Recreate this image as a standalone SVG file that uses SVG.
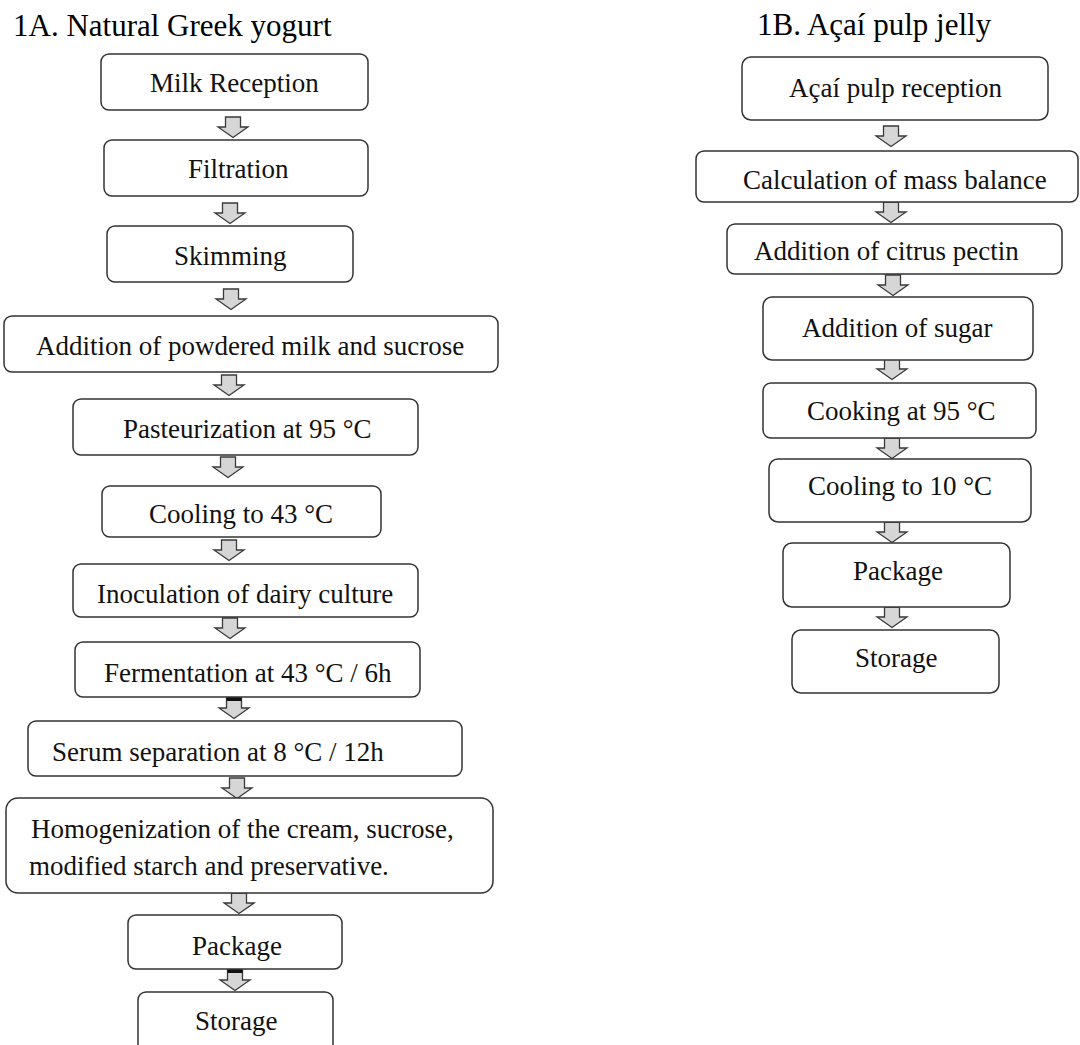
<svg xmlns="http://www.w3.org/2000/svg" width="1080" height="1045" viewBox="0 0 1080 1045">
<style>
  .bg{fill:#ffffff}
  .box{fill:#ffffff;stroke:#333333;stroke-width:1.5}
  .lbl{font-family:"Liberation Serif","Times New Roman",serif;font-size:27px;fill:#111111}
  .title{font-family:"Liberation Serif","Times New Roman",serif;font-size:31px;fill:#000000}
  .arr{fill:#d6d6d6;stroke:#3a3a3a;stroke-width:1.3;stroke-linejoin:miter}
  .cap{fill:#111111}
</style>
<defs>
  <path id="ar" d="M-7.5,0 H7.5 V10 H15 L0,20.5 L-15,10 H-7.5 Z"/>
</defs>
<rect class="bg" x="0" y="0" width="1080" height="1045"/>

<text class="title" x="13" y="36" font-family="Liberation Serif, Times New Roman, serif">1A. Natural Greek yogurt</text>
<text class="title" x="757" y="35" font-family="Liberation Serif, Times New Roman, serif">1B. Açaí pulp jelly</text>

<g id="connectors">
  <use href="#ar" class="arr" x="233" y="117"/>
  <use href="#ar" class="arr" x="230" y="203"/>
  <use href="#ar" class="arr" x="231" y="289"/>
  <use href="#ar" class="arr" x="229" y="375"/>
  <use href="#ar" class="arr" x="228" y="457"/>
  <use href="#ar" class="arr" x="229" y="540"/>
  <use href="#ar" class="arr" x="230" y="618"/>
  <use href="#ar" class="arr" x="234" y="698"/>
  <rect class="cap" x="226.5" y="697" width="15" height="4"/>
  <use href="#ar" class="arr" x="237" y="778"/>
  <use href="#ar" class="arr" x="239" y="893"/>
  <use href="#ar" class="arr" x="235" y="970"/>
  <rect class="cap" x="227.5" y="969" width="15" height="4"/>

  <use href="#ar" class="arr" x="891" y="126"/>
  <use href="#ar" class="arr" x="891" y="202"/>
  <use href="#ar" class="arr" x="893" y="275"/>
  <use href="#ar" class="arr" x="892" y="359"/>
  <use href="#ar" class="arr" x="892" y="438"/>
  <use href="#ar" class="arr" x="892" y="522"/>
  <use href="#ar" class="arr" x="892" y="607"/>
</g>

<g font-family="Liberation Serif, Times New Roman, serif" font-size="27">
<g id="a1"><rect class="box" x="101" y="54" width="267" height="56" rx="8"/><text class="lbl" x="150" y="92">Milk Reception</text></g>
<g id="a2"><rect class="box" x="104" y="140" width="264" height="56" rx="8"/><text class="lbl" x="188" y="178">Filtration</text></g>
<g id="a3"><rect class="box" x="107" y="226" width="246" height="56" rx="8"/><text class="lbl" x="174" y="265">Skimming</text></g>
<g id="a4"><rect class="box" x="4" y="316" width="494" height="56" rx="8"/><text class="lbl" x="36" y="355">Addition of powdered milk and sucrose</text></g>
<g id="a5"><rect class="box" x="73" y="399" width="345" height="56" rx="8"/><text class="lbl" x="123" y="438">Pasteurization at 95 °C</text></g>
<g id="a6"><rect class="box" x="102" y="486" width="279" height="51" rx="8"/><text class="lbl" x="149" y="523">Cooling to 43 °C</text></g>
<g id="a7"><rect class="box" x="73" y="564" width="345" height="53" rx="8"/><text class="lbl" x="97" y="603">Inoculation of dairy culture</text></g>
<g id="a8"><rect class="box" x="75" y="642" width="345" height="55" rx="8"/><text class="lbl" x="104" y="682">Fermentation at 43 °C / 6h</text></g>
<g id="a9"><rect class="box" x="28" y="721" width="434" height="55" rx="8"/><text class="lbl" x="52" y="761">Serum separation at 8 °C / 12h</text></g>
<g id="a10"><rect class="box" x="6" y="798" width="487" height="95" rx="12"/><text class="lbl" x="31" y="838">Homogenization of the cream, sucrose,</text><text class="lbl" x="29" y="875">modified starch and preservative.</text></g>
<g id="a11"><rect class="box" x="128" y="915" width="214" height="54" rx="8"/><text class="lbl" x="192" y="955">Package</text></g>
<g id="a12"><rect class="box" x="138" y="992" width="195" height="70" rx="8"/><text class="lbl" x="195" y="1030">Storage</text></g>

<g id="b1"><rect class="box" x="742" y="57" width="306" height="63" rx="9"/><text class="lbl" x="789" y="97">Açaí pulp reception</text></g>
<g id="b2"><rect class="box" x="696" y="151" width="382" height="51" rx="8"/><text class="lbl" x="743" y="189">Calculation of mass balance</text></g>
<g id="b3"><rect class="box" x="727" y="224" width="335" height="50" rx="8"/><text class="lbl" x="754" y="260">Addition of citrus pectin</text></g>
<g id="b4"><rect class="box" x="763" y="297" width="270" height="63" rx="9"/><text class="lbl" x="802" y="337">Addition of sugar</text></g>
<g id="b5"><rect class="box" x="763" y="383" width="273" height="55" rx="8"/><text class="lbl" x="807" y="420">Cooking at 95 °C</text></g>
<g id="b6"><rect class="box" x="769" y="459" width="262" height="63" rx="9"/><text class="lbl" x="808" y="495">Cooling to 10 °C</text></g>
<g id="b7"><rect class="box" x="783" y="543" width="227" height="64" rx="9"/><text class="lbl" x="853" y="580">Package</text></g>
<g id="b8"><rect class="box" x="792" y="630" width="207" height="63" rx="9"/><text class="lbl" x="855" y="667">Storage</text></g>
</g>
</svg>
